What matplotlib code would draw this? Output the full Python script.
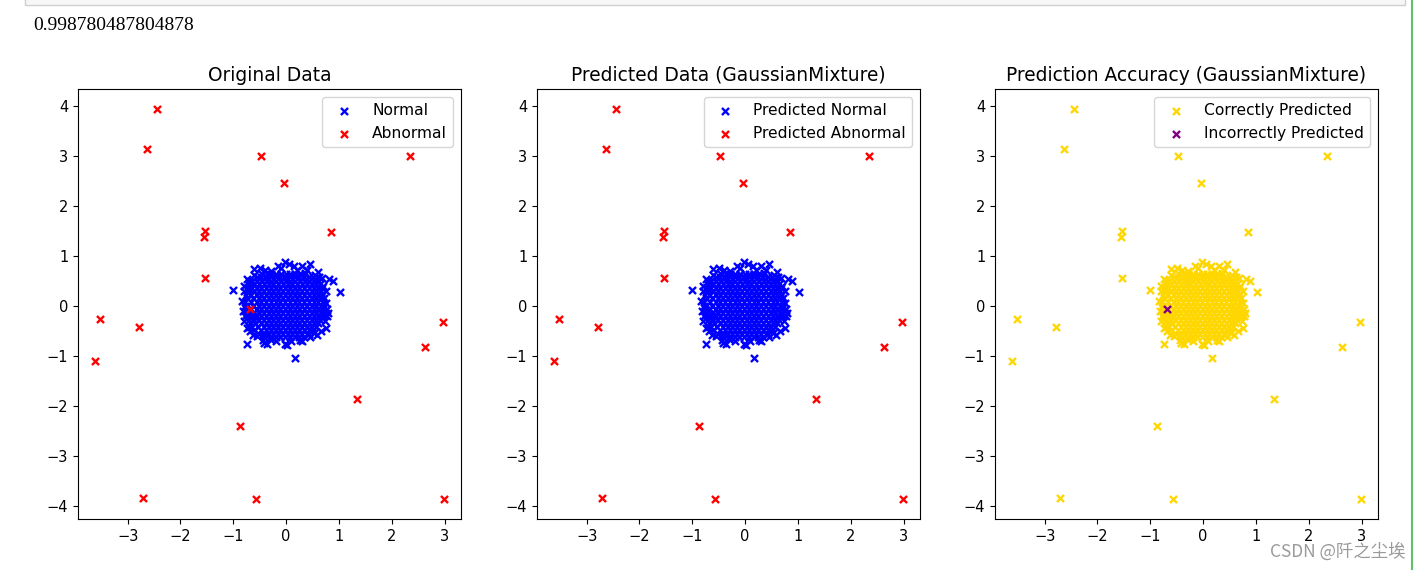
import matplotlib.pyplot as plt
from matplotlib.patches import Rectangle
from matplotlib.lines import Line2D

# score printed above the figure in the notebook
accuracy_text = '0.998780487804878'

# abnormal (outlier) points
abn_x = [-2.45, -2.64, -0.47, -0.04, 2.35, -1.54, -1.56, 0.85, -1.54, -3.53,
         -2.79, -3.61, 2.96, 2.62, 1.35, -0.87, -2.70, -0.57, 2.98, -0.68]
abn_y = [3.94, 3.14, 3.00, 2.46, 3.00, 1.49, 1.37, 1.47, 0.55, -0.25,
         -0.41, -1.09, -0.31, -0.81, -1.85, -2.39, -3.84, -3.86, -3.86, -0.05]
missed_idx = 19   # the one abnormal point the model called normal

# normal cluster: loose points on its edge
edge_x = [-1.01, 1.01, 0.16, -0.75, -0.02, 0.06, 0.30, 0.45, 0.60, 0.82, 0.88,
          -0.28, -0.50, -0.60, -0.75, -0.79, -0.70, -0.82, -0.78, -0.75, -0.71,
          0.79, 0.77, 0.75, 0.53, 0.26, 0.01, -0.03, -0.37, -0.43, -0.41, 0.75, 0.70,
          -0.60, 0.55, 0.68, -0.70, 0.76, 0.78, 0.74, 0.66, 0.45, 0.30, -0.20, -0.55,
          -0.68, -0.80, -0.84, -0.80, -0.40, -0.10, 0.20, 0.40, 0.15, -0.15, 0.36,
          -0.30, 0.10, 0.58, -0.62, 0.62]
edge_y = [0.31, 0.28, -1.03, -0.75, 0.87, 0.84, 0.79, 0.83, 0.67, 0.53, 0.50,
          0.69, 0.76, 0.74, 0.53, 0.30, 0.33, -0.10, -0.20, -0.44, -0.42,
          -0.14, -0.20, -0.44, -0.53, -0.67, -0.77, -0.75, -0.75, -0.67, -0.73, 0.05, 0.40,
          0.62, 0.62, 0.55, 0.50, 0.30, -0.05, -0.30, -0.50, -0.62, -0.70, -0.70, -0.60,
          -0.50, -0.30, 0.10, 0.40, 0.72, 0.75, 0.72, 0.72, 0.80, 0.80, 0.66,
          -0.66, -0.70, -0.58, -0.58, 0.58]

# normal cluster: dense core, one row of x positions per y level
core_rows = [
    (0.64, [-0.46, -0.37, -0.28, -0.19, -0.10, -0.01, 0.08, 0.17, 0.26, 0.35]),
    (0.57, [-0.56, -0.47, -0.38, -0.29, -0.20, -0.11, -0.02, 0.07, 0.16, 0.25, 0.34, 0.43, 0.51]),
    (0.50, [-0.64, -0.55, -0.46, -0.37, -0.28, -0.19, -0.10, -0.01, 0.08, 0.17, 0.26, 0.35, 0.44, 0.53, 0.60]),
    (0.43, [-0.70, -0.60, -0.51, -0.42, -0.33, -0.24, -0.15, -0.06, 0.03, 0.12, 0.21, 0.30, 0.39, 0.48, 0.57, 0.64]),
    (0.36, [-0.74, -0.65, -0.56, -0.47, -0.38, -0.29, -0.20, -0.11, -0.02, 0.07, 0.16, 0.25, 0.34, 0.43, 0.52, 0.61, 0.67]),
    (0.29, [-0.72, -0.61, -0.51, -0.42, -0.33, -0.24, -0.15, -0.06, 0.03, 0.12, 0.21, 0.30, 0.39, 0.48, 0.57, 0.66]),
    (0.22, [-0.76, -0.66, -0.56, -0.47, -0.38, -0.29, -0.20, -0.11, -0.02, 0.07, 0.16, 0.25, 0.34, 0.43, 0.52, 0.61, 0.68]),
    (0.15, [-0.74, -0.62, -0.51, -0.42, -0.33, -0.24, -0.15, -0.06, 0.03, 0.12, 0.21, 0.30, 0.39, 0.48, 0.57, 0.66, 0.71]),
    (0.08, [-0.78, -0.67, -0.56, -0.47, -0.38, -0.29, -0.20, -0.11, -0.02, 0.07, 0.16, 0.25, 0.34, 0.43, 0.52, 0.61, 0.70]),
    (0.01, [-0.77, -0.62, -0.51, -0.42, -0.33, -0.24, -0.15, -0.06, 0.03, 0.12, 0.21, 0.30, 0.39, 0.48, 0.57, 0.66, 0.72]),
    (-0.06, [-0.76, -0.67, -0.56, -0.47, -0.38, -0.29, -0.20, -0.11, -0.02, 0.07, 0.16, 0.25, 0.34, 0.43, 0.52, 0.61, 0.70]),
    (-0.13, [-0.74, -0.62, -0.51, -0.42, -0.33, -0.24, -0.15, -0.06, 0.03, 0.12, 0.21, 0.30, 0.39, 0.48, 0.57, 0.67]),
    (-0.20, [-0.72, -0.63, -0.56, -0.47, -0.38, -0.29, -0.20, -0.11, -0.02, 0.07, 0.16, 0.25, 0.34, 0.43, 0.52, 0.61, 0.68]),
    (-0.27, [-0.70, -0.60, -0.51, -0.42, -0.33, -0.24, -0.15, -0.06, 0.03, 0.12, 0.21, 0.30, 0.39, 0.48, 0.57, 0.65]),
    (-0.34, [-0.68, -0.58, -0.47, -0.38, -0.29, -0.20, -0.11, -0.02, 0.07, 0.16, 0.25, 0.34, 0.43, 0.52, 0.61]),
    (-0.41, [-0.64, -0.53, -0.42, -0.33, -0.24, -0.15, -0.06, 0.03, 0.12, 0.21, 0.30, 0.39, 0.48, 0.57]),
    (-0.48, [-0.60, -0.47, -0.38, -0.29, -0.20, -0.11, -0.02, 0.07, 0.16, 0.25, 0.34, 0.43, 0.51]),
    (-0.55, [-0.52, -0.42, -0.33, -0.24, -0.15, -0.06, 0.03, 0.12, 0.21, 0.30, 0.39, 0.44]),
    (-0.62, [-0.42, -0.29, -0.20, -0.11, -0.02, 0.07, 0.16, 0.25, 0.34]),
]

titles = ['Original Data', 'Predicted Data (GaussianMixture)',
          'Prediction Accuracy (GaussianMixture)']
legend_labels = [('Normal', 'Abnormal'),
                 ('Predicted Normal', 'Predicted Abnormal'),
                 ('Correctly Predicted', 'Incorrectly Predicted')]


normal_x = list(edge_x)
normal_y = list(edge_y)
for yy, xs in core_rows:
    normal_x += xs
    normal_y += [yy] * len(xs)

keep = [i for i in range(len(abn_x)) if i != missed_idx]
abn_keep_x = [abn_x[i] for i in keep]
abn_keep_y = [abn_y[i] for i in keep]

W, H = 1421, 570
fig = plt.figure(figsize=(W / 100, H / 100), dpi=100)

# notebook decorations: bottom of the input cell and the green side bar
fig.patches.append(Rectangle((25 / W, 1 - 5 / H), 1380 / W, 10 / H, transform=fig.transFigure,
                             facecolor='#f7f7f7', edgecolor='#cfcfcf', lw=1))
fig.lines.append(Line2D([1412 / W, 1412 / W], [0, 1], transform=fig.transFigure,
                        color='#5cc16a', lw=1.5))
fig.text(33 / W, 1 - 26 / H, accuracy_text, family='Liberation Serif', fontsize=14,
         va='center', ha='left')

lefts = [78, 537, 995]
axes = [fig.add_axes([l / W, 51 / H, 383 / W, 430 / H]) for l in lefts]

mk = dict(marker='x', s=26, linewidths=1.7)

# 1) original data
ax = axes[0]
ax.scatter(normal_x, normal_y, c='blue', label=legend_labels[0][0], **mk)
ax.scatter(abn_x, abn_y, c='red', label=legend_labels[0][1], **mk)

# 2) predicted labels
ax = axes[1]
ax.scatter(normal_x + [abn_x[missed_idx]], normal_y + [abn_y[missed_idx]], c='blue',
           label=legend_labels[1][0], **mk)
ax.scatter(abn_keep_x, abn_keep_y, c='red', label=legend_labels[1][1], **mk)

# 3) right / wrong
ax = axes[2]
ax.scatter(normal_x + abn_keep_x, normal_y + abn_keep_y, c='gold',
           label=legend_labels[2][0], **mk)
ax.scatter([abn_x[missed_idx]], [abn_y[missed_idx]], c='purple',
           label=legend_labels[2][1], **mk)

for ax, t in zip(axes, titles):
    ax.set_title(t, fontsize=13.4)
    ax.tick_params(labelsize=10.5)
    ax.legend(loc='upper right', fontsize=11.2)

fig.text(1405 / W, 1 - 551 / H, 'CSDN @阡之尘埃', family=['Noto Sans CJK SC', 'DejaVu Sans'],
         fontsize=12.5, color='#9a9a9a', ha='right', va='center')

plt.savefig('out.png', dpi=100)
